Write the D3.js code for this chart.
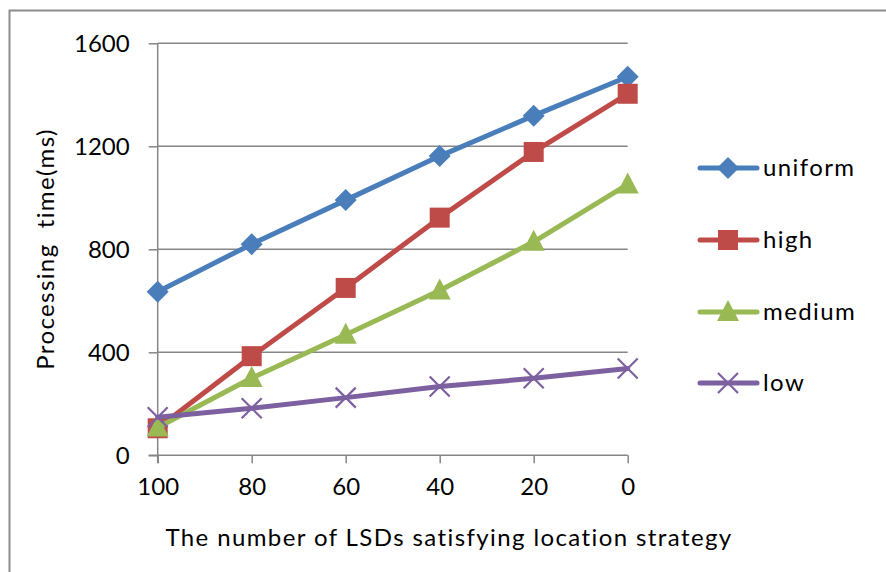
<!DOCTYPE html>
<html><head><meta charset="utf-8">
<script src="https://cdn.jsdelivr.net/npm/d3@7"></script>
<style>body{margin:0;background:#fff}svg{display:block}text{font-family:Lato,"Noto Sans",sans-serif;fill:#000}</style>
</head><body>
<svg id="c" width="886" height="572"></svg>
<script>
const categories = ["100","80","60","40","20","0"];
const uniform = [635, 820, 991, 1162, 1319, 1470];
const high = [105, 385, 650, 923, 1178, 1404];
const medium = [108, 300, 468, 640, 829, 1052];
const low = [148, 183, 224, 267, 299, 337];
const yTicks = [0, 400, 800, 1200, 1600];
const seriesNames = ["uniform","high","medium","low"];
const colors = ["#4A7EBB","#BE4B48","#98B954","#7D60A0"];
const symbols = ["diamond","square","triangle","cross"];

const svg = d3.select("#c");
svg.append("rect").attr("x",9.5).attr("y",10.5).attr("width",900).attr("height",600)
  .attr("fill","none").attr("stroke","#8c8c8c").attr("stroke-width",2);

const L=157.7, R=627.7, T=43.3, B=455.3;
const x = d3.scalePoint().domain(categories).range([L,R]);
const y = d3.scaleLinear().domain([0,1600]).range([B,T]);

svg.append("g").selectAll("line").data(yTicks.filter(d=>d>0)).join("line")
  .attr("x1",L).attr("x2",R).attr("y1",d=>y(d)).attr("y2",d=>y(d))
  .attr("stroke","#868686").attr("stroke-width",1.5);

const ya = svg.append("g").attr("transform",`translate(${L},0)`)
  .call(d3.axisLeft(y).tickValues(yTicks).tickSize(9).tickPadding(19).tickFormat(d3.format("d")));
ya.select(".domain").attr("stroke","#868686").attr("stroke-width",1.5).attr("d",`M0,${T}V${B+8}`);
ya.selectAll(".tick line").attr("stroke","#868686").attr("stroke-width",1.5);
ya.selectAll(".tick text").style("font-size","24px").attr("dy","0.35em");

const xa = svg.append("g").attr("transform",`translate(0,${B})`)
  .call(d3.axisBottom(x).tickSize(8).tickPadding(15));
xa.select(".domain").attr("stroke","#868686").attr("stroke-width",1.5).attr("d",`M${L-9},0H${R}`);
xa.selectAll(".tick line").attr("stroke","#868686").attr("stroke-width",1.5);
xa.selectAll(".tick text").style("font-size","24px").attr("dy","0.71em");

svg.append("text").attr("x",449).attr("y",546).attr("text-anchor","middle")
  .style("font-size","24px").style("letter-spacing","1.4px").text("The number of LSDs satisfying location strategy");
svg.append("text").attr("transform","translate(54,249) rotate(-90)").attr("text-anchor","middle")
  .style("font-size","24px").style("letter-spacing","1.4px").style("white-space","pre").text("Processing  time(ms)");

const data = [uniform, high, medium, low];
function marker(g, sym, color, cx, cy){
  if(sym==="diamond"){
    g.append("path").attr("d",`M${cx},${cy-11}L${cx+11},${cy}L${cx},${cy+11}L${cx-11},${cy}Z`).attr("fill",color);
  } else if(sym==="square"){
    g.append("rect").attr("x",cx-10).attr("y",cy-10).attr("width",20).attr("height",20).attr("fill",color);
  } else if(sym==="triangle"){
    g.append("path").attr("d",`M${cx},${cy-12}L${cx+11},${cy+9}L${cx-11},${cy+9}Z`).attr("fill",color);
  } else {
    g.append("path").attr("d",`M${cx-10},${cy-10}L${cx+10},${cy+10}M${cx-10},${cy+10}L${cx+10},${cy-10}`)
      .attr("stroke",color).attr("stroke-width",2.2).attr("fill","none");
  }
}
const line = d3.line().x((d,i)=>x(categories[i])).y(d=>y(d));
data.forEach((vals,si)=>{
  const g = svg.append("g");
  g.append("path").attr("d",line(vals)).attr("fill","none").attr("stroke",colors[si])
    .attr("stroke-width",5).attr("stroke-linejoin","round").attr("stroke-linecap","round");
  vals.forEach((v,i)=>marker(g, symbols[si], colors[si], x(categories[i]), y(v)));
});

const legY = [168, 240, 312, 383];
seriesNames.forEach((n,i)=>{
  const g = svg.append("g");
  g.append("line").attr("x1",700).attr("x2",757).attr("y1",legY[i]).attr("y2",legY[i])
    .attr("stroke",colors[i]).attr("stroke-width",5).attr("stroke-linecap","round");
  marker(g, symbols[i], colors[i], 728, legY[i]);
  g.append("text").attr("x",763).attr("y",legY[i]).attr("dy","0.35em").style("font-size","24px")
    .style("letter-spacing","1.4px").text(n);
});
</script>
</body></html>
